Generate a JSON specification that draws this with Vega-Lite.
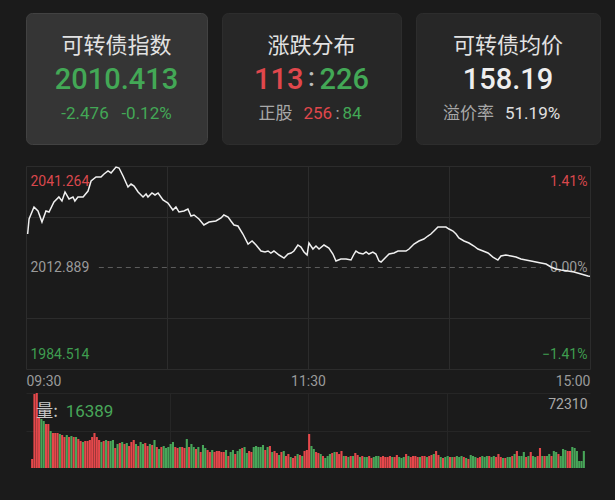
{
"$schema": "https://vega.github.io/schema/vega-lite/v6.json",
"background": "#1b1b1b",
"padding": {"left": 24, "top": 12, "right": 21, "bottom": 34},
"config": {"view": {"stroke": null}, "font": "Noto Sans CJK SC"},
"datasets": {
"price": [{"t":0.7,"p":2022.25},{"t":1.3,"p":2026.45},{"t":3.4,"p":2029.80},{"t":5.1,"p":2028.68},{"t":6.8,"p":2025.61},{"t":8.5,"p":2028.68},{"t":9.8,"p":2028.40},{"t":11.9,"p":2031.20},{"t":14.0,"p":2032.60},{"t":15.3,"p":2031.48},{"t":16.6,"p":2034.00},{"t":18.3,"p":2032.04},{"t":20.0,"p":2032.60},{"t":20.8,"p":2031.48},{"t":22.1,"p":2032.60},{"t":24.3,"p":2032.60},{"t":26.4,"p":2034.27},{"t":27.7,"p":2037.07},{"t":29.8,"p":2038.19},{"t":31.9,"p":2038.19},{"t":33.2,"p":2039.03},{"t":34.9,"p":2039.87},{"t":36.2,"p":2039.31},{"t":38.3,"p":2040.98},{"t":39.6,"p":2040.70},{"t":41.3,"p":2038.47},{"t":43.4,"p":2035.39},{"t":44.7,"p":2036.23},{"t":46.0,"p":2035.67},{"t":47.7,"p":2034.00},{"t":49.8,"p":2032.60},{"t":51.1,"p":2033.44},{"t":51.9,"p":2032.60},{"t":53.6,"p":2033.72},{"t":54.9,"p":2033.16},{"t":56.2,"p":2033.72},{"t":58.3,"p":2031.76},{"t":60.4,"p":2030.92},{"t":62.5,"p":2028.96},{"t":63.8,"p":2029.80},{"t":65.1,"p":2028.40},{"t":67.2,"p":2028.68},{"t":68.9,"p":2029.24},{"t":70.2,"p":2027.29},{"t":71.5,"p":2027.57},{"t":73.6,"p":2026.45},{"t":75.7,"p":2024.77},{"t":77.9,"p":2025.61},{"t":80.8,"p":2025.89},{"t":83.0,"p":2026.73},{"t":84.2,"p":2027.57},{"t":86.0,"p":2027.01},{"t":87.2,"p":2025.89},{"t":88.5,"p":2024.77},{"t":90.2,"p":2024.49},{"t":92.3,"p":2022.25},{"t":94.5,"p":2019.46},{"t":96.2,"p":2020.30},{"t":97.9,"p":2019.18},{"t":100.0,"p":2017.50},{"t":101.7,"p":2017.22},{"t":103.0,"p":2017.50},{"t":104.2,"p":2016.94},{"t":105.5,"p":2017.50},{"t":107.7,"p":2016.38},{"t":109.8,"p":2015.54},{"t":111.5,"p":2016.66},{"t":112.8,"p":2016.94},{"t":114.0,"p":2017.50},{"t":115.7,"p":2019.18},{"t":117.0,"p":2018.62},{"t":118.3,"p":2017.22},{"t":119.6,"p":2016.38},{"t":120.4,"p":2019.74},{"t":122.1,"p":2018.06},{"t":123.4,"p":2018.90},{"t":124.7,"p":2018.06},{"t":126.8,"p":2019.18},{"t":128.9,"p":2018.34},{"t":130.6,"p":2016.66},{"t":131.9,"p":2014.71},{"t":134.0,"p":2015.26},{"t":136.2,"p":2015.26},{"t":138.3,"p":2014.98},{"t":139.6,"p":2016.66},{"t":140.4,"p":2017.50},{"t":141.7,"p":2016.94},{"t":143.4,"p":2016.66},{"t":144.7,"p":2017.22},{"t":145.9,"p":2016.66},{"t":147.6,"p":2017.22},{"t":148.9,"p":2016.66},{"t":150.2,"p":2014.71},{"t":151.1,"p":2014.43},{"t":153.2,"p":2015.82},{"t":154.5,"p":2016.66},{"t":156.6,"p":2016.94},{"t":158.3,"p":2017.50},{"t":159.6,"p":2017.50},{"t":161.7,"p":2017.50},{"t":163.0,"p":2018.06},{"t":165.1,"p":2019.46},{"t":167.2,"p":2020.30},{"t":169.3,"p":2020.85},{"t":171.0,"p":2021.69},{"t":172.3,"p":2022.25},{"t":173.6,"p":2023.09},{"t":175.3,"p":2024.21},{"t":176.6,"p":2024.21},{"t":178.7,"p":2024.21},{"t":180.0,"p":2023.65},{"t":181.7,"p":2023.09},{"t":183.0,"p":2022.25},{"t":184.2,"p":2021.13},{"t":186.4,"p":2020.30},{"t":188.5,"p":2019.74},{"t":190.6,"p":2018.90},{"t":192.3,"p":2018.06},{"t":194.5,"p":2017.50},{"t":196.6,"p":2016.94},{"t":198.7,"p":2015.82},{"t":200.8,"p":2014.98},{"t":202.1,"p":2016.10},{"t":204.2,"p":2016.38},{"t":206.4,"p":2016.10},{"t":208.5,"p":2015.82},{"t":210.6,"p":2015.26},{"t":212.7,"p":2014.98},{"t":214.9,"p":2014.71},{"t":217.0,"p":2014.43},{"t":219.1,"p":2014.15},{"t":221.3,"p":2013.87},{"t":223.4,"p":2013.03},{"t":225.5,"p":2012.47},{"t":227.6,"p":2012.19},{"t":230.6,"p":2011.91},{"t":233.2,"p":2011.63},{"t":236.2,"p":2011.07},{"t":239.1,"p":2010.51},{"t":240,"p":2010.41}],
"vol": [{"t":0,"v":8676,"d":"up"},{"t":1,"v":71336,"d":"up"},{"t":2,"v":72310,"d":"up"},{"t":3,"v":49164,"d":"up"},{"t":4,"v":47236,"d":"down"},{"t":5,"v":45308,"d":"down"},{"t":6,"v":42416,"d":"up"},{"t":7,"v":42416,"d":"up"},{"t":8,"v":35668,"d":"down"},{"t":9,"v":33740,"d":"up"},{"t":10,"v":33740,"d":"up"},{"t":11,"v":33740,"d":"up"},{"t":12,"v":32776,"d":"down"},{"t":13,"v":31812,"d":"up"},{"t":14,"v":29884,"d":"up"},{"t":15,"v":31812,"d":"down"},{"t":16,"v":29884,"d":"up"},{"t":17,"v":30848,"d":"down"},{"t":18,"v":29884,"d":"up"},{"t":19,"v":29884,"d":"down"},{"t":20,"v":27956,"d":"up"},{"t":21,"v":26028,"d":"up"},{"t":22,"v":25064,"d":"down"},{"t":23,"v":26028,"d":"up"},{"t":24,"v":26028,"d":"up"},{"t":25,"v":26992,"d":"up"},{"t":26,"v":29884,"d":"up"},{"t":27,"v":33740,"d":"up"},{"t":28,"v":29884,"d":"up"},{"t":29,"v":26992,"d":"up"},{"t":30,"v":25064,"d":"down"},{"t":31,"v":26028,"d":"up"},{"t":32,"v":26992,"d":"down"},{"t":33,"v":26028,"d":"up"},{"t":34,"v":26028,"d":"down"},{"t":35,"v":26992,"d":"down"},{"t":36,"v":19280,"d":"up"},{"t":37,"v":23136,"d":"down"},{"t":38,"v":24100,"d":"up"},{"t":39,"v":25064,"d":"down"},{"t":40,"v":23136,"d":"up"},{"t":41,"v":24100,"d":"down"},{"t":42,"v":21208,"d":"up"},{"t":43,"v":25064,"d":"up"},{"t":44,"v":26992,"d":"up"},{"t":45,"v":23136,"d":"down"},{"t":46,"v":21208,"d":"up"},{"t":47,"v":25064,"d":"down"},{"t":48,"v":23136,"d":"down"},{"t":49,"v":24100,"d":"up"},{"t":50,"v":21208,"d":"up"},{"t":51,"v":23136,"d":"down"},{"t":52,"v":22172,"d":"up"},{"t":53,"v":26992,"d":"down"},{"t":54,"v":20244,"d":"up"},{"t":55,"v":18316,"d":"down"},{"t":56,"v":20244,"d":"up"},{"t":57,"v":21208,"d":"down"},{"t":58,"v":19280,"d":"down"},{"t":59,"v":20244,"d":"down"},{"t":60,"v":23136,"d":"down"},{"t":61,"v":25064,"d":"down"},{"t":62,"v":20244,"d":"up"},{"t":63,"v":19280,"d":"up"},{"t":64,"v":20244,"d":"down"},{"t":65,"v":20244,"d":"up"},{"t":66,"v":19280,"d":"up"},{"t":67,"v":27956,"d":"down"},{"t":68,"v":20244,"d":"up"},{"t":69,"v":23136,"d":"down"},{"t":70,"v":20244,"d":"down"},{"t":71,"v":18316,"d":"up"},{"t":72,"v":20244,"d":"down"},{"t":73,"v":15424,"d":"up"},{"t":74,"v":22172,"d":"down"},{"t":75,"v":19280,"d":"down"},{"t":76,"v":17352,"d":"up"},{"t":77,"v":15424,"d":"up"},{"t":78,"v":17352,"d":"down"},{"t":79,"v":15424,"d":"up"},{"t":80,"v":16388,"d":"up"},{"t":81,"v":16388,"d":"up"},{"t":82,"v":15424,"d":"up"},{"t":83,"v":15424,"d":"up"},{"t":84,"v":17352,"d":"down"},{"t":85,"v":11568,"d":"up"},{"t":86,"v":15424,"d":"down"},{"t":87,"v":17352,"d":"down"},{"t":88,"v":13496,"d":"up"},{"t":89,"v":16388,"d":"down"},{"t":90,"v":18316,"d":"down"},{"t":91,"v":19280,"d":"up"},{"t":92,"v":20244,"d":"down"},{"t":93,"v":14460,"d":"down"},{"t":94,"v":16388,"d":"up"},{"t":95,"v":15424,"d":"up"},{"t":96,"v":20244,"d":"down"},{"t":97,"v":21208,"d":"down"},{"t":98,"v":20244,"d":"down"},{"t":99,"v":20244,"d":"down"},{"t":100,"v":22172,"d":"down"},{"t":101,"v":17352,"d":"up"},{"t":102,"v":20244,"d":"down"},{"t":103,"v":21208,"d":"up"},{"t":104,"v":15424,"d":"down"},{"t":105,"v":16388,"d":"up"},{"t":106,"v":14460,"d":"up"},{"t":107,"v":12532,"d":"down"},{"t":108,"v":15424,"d":"up"},{"t":109,"v":16388,"d":"down"},{"t":110,"v":11568,"d":"up"},{"t":111,"v":13496,"d":"up"},{"t":112,"v":10604,"d":"down"},{"t":113,"v":9640,"d":"up"},{"t":114,"v":11568,"d":"up"},{"t":115,"v":13496,"d":"down"},{"t":116,"v":12532,"d":"up"},{"t":117,"v":11568,"d":"down"},{"t":118,"v":16388,"d":"up"},{"t":119,"v":17352,"d":"up"},{"t":120,"v":32776,"d":"up"},{"t":121,"v":21208,"d":"down"},{"t":122,"v":18316,"d":"down"},{"t":123,"v":15424,"d":"up"},{"t":124,"v":14460,"d":"up"},{"t":125,"v":13496,"d":"down"},{"t":126,"v":11568,"d":"up"},{"t":127,"v":9640,"d":"down"},{"t":128,"v":11568,"d":"down"},{"t":129,"v":13496,"d":"down"},{"t":130,"v":14460,"d":"up"},{"t":131,"v":15424,"d":"down"},{"t":132,"v":15424,"d":"up"},{"t":133,"v":13496,"d":"up"},{"t":134,"v":16388,"d":"up"},{"t":135,"v":11568,"d":"down"},{"t":136,"v":11568,"d":"up"},{"t":137,"v":10604,"d":"down"},{"t":138,"v":11568,"d":"up"},{"t":139,"v":11568,"d":"down"},{"t":140,"v":14460,"d":"up"},{"t":141,"v":12532,"d":"up"},{"t":142,"v":10604,"d":"down"},{"t":143,"v":11568,"d":"up"},{"t":144,"v":10604,"d":"down"},{"t":145,"v":10604,"d":"down"},{"t":146,"v":11568,"d":"up"},{"t":147,"v":9640,"d":"up"},{"t":148,"v":10604,"d":"down"},{"t":149,"v":11568,"d":"down"},{"t":150,"v":11568,"d":"down"},{"t":151,"v":10604,"d":"up"},{"t":152,"v":11568,"d":"up"},{"t":153,"v":10604,"d":"up"},{"t":154,"v":10604,"d":"up"},{"t":155,"v":11568,"d":"up"},{"t":156,"v":10604,"d":"down"},{"t":157,"v":10604,"d":"up"},{"t":158,"v":12532,"d":"up"},{"t":159,"v":10604,"d":"down"},{"t":160,"v":9640,"d":"down"},{"t":161,"v":10604,"d":"down"},{"t":162,"v":13496,"d":"up"},{"t":163,"v":11568,"d":"down"},{"t":164,"v":10604,"d":"up"},{"t":165,"v":11568,"d":"up"},{"t":166,"v":11568,"d":"up"},{"t":167,"v":10604,"d":"up"},{"t":168,"v":10604,"d":"down"},{"t":169,"v":11568,"d":"up"},{"t":170,"v":11568,"d":"up"},{"t":171,"v":10604,"d":"down"},{"t":172,"v":11568,"d":"up"},{"t":173,"v":12532,"d":"up"},{"t":174,"v":13496,"d":"down"},{"t":175,"v":16388,"d":"up"},{"t":176,"v":12532,"d":"up"},{"t":177,"v":10604,"d":"down"},{"t":178,"v":9640,"d":"up"},{"t":179,"v":10604,"d":"down"},{"t":180,"v":11568,"d":"down"},{"t":181,"v":10604,"d":"up"},{"t":182,"v":10604,"d":"down"},{"t":183,"v":10604,"d":"up"},{"t":184,"v":11568,"d":"down"},{"t":185,"v":10604,"d":"down"},{"t":186,"v":11568,"d":"down"},{"t":187,"v":10604,"d":"up"},{"t":188,"v":9640,"d":"down"},{"t":189,"v":8676,"d":"up"},{"t":190,"v":12532,"d":"down"},{"t":191,"v":11568,"d":"down"},{"t":192,"v":10604,"d":"down"},{"t":193,"v":9640,"d":"up"},{"t":194,"v":10604,"d":"up"},{"t":195,"v":11568,"d":"down"},{"t":196,"v":10604,"d":"down"},{"t":197,"v":11568,"d":"down"},{"t":198,"v":11568,"d":"up"},{"t":199,"v":10604,"d":"down"},{"t":200,"v":11568,"d":"down"},{"t":201,"v":10604,"d":"up"},{"t":202,"v":13496,"d":"up"},{"t":203,"v":10604,"d":"up"},{"t":204,"v":9640,"d":"down"},{"t":205,"v":9640,"d":"up"},{"t":206,"v":10604,"d":"down"},{"t":207,"v":10604,"d":"down"},{"t":208,"v":11568,"d":"up"},{"t":209,"v":13496,"d":"down"},{"t":210,"v":16388,"d":"up"},{"t":211,"v":11568,"d":"down"},{"t":212,"v":11568,"d":"down"},{"t":213,"v":15424,"d":"down"},{"t":214,"v":10604,"d":"up"},{"t":215,"v":11568,"d":"down"},{"t":216,"v":15424,"d":"up"},{"t":217,"v":11568,"d":"down"},{"t":218,"v":10604,"d":"down"},{"t":219,"v":11568,"d":"up"},{"t":220,"v":19280,"d":"up"},{"t":221,"v":11568,"d":"down"},{"t":222,"v":11568,"d":"up"},{"t":223,"v":11568,"d":"down"},{"t":224,"v":13496,"d":"down"},{"t":225,"v":11568,"d":"up"},{"t":226,"v":16388,"d":"down"},{"t":227,"v":15424,"d":"down"},{"t":228,"v":13496,"d":"up"},{"t":229,"v":11568,"d":"down"},{"t":230,"v":18316,"d":"down"},{"t":231,"v":17352,"d":"down"},{"t":232,"v":16388,"d":"up"},{"t":233,"v":16388,"d":"up"},{"t":234,"v":20244,"d":"down"},{"t":235,"v":19280,"d":"down"},{"t":236,"v":16388,"d":"down"},{"t":237,"v":6748,"d":"down"},{"t":238,"v":6748,"d":"down"},{"t":239,"v":16389,"d":"down"}]
},
"spacing": 19,
"vconcat": [
 {
  "spacing": 13,
  "hconcat": [
   {
    "width": 181, "height": 131,
    "view": {"fill": "#353535", "stroke": "#424242", "strokeWidth": 1, "cornerRadius": 6},
    "encoding": {"y": {"field": "line", "type": "ordinal", "scale": {"type": "point", "domain": ["title","value","sub"], "range": [33,101], "padding": 0}, "axis": null}, "text": {"field": "label"}},
    "layer": [
     {"data": {"values": [{"line": "title", "label": "可转债指数"}]}, "mark": {"type": "text", "fontSize": 22, "color": "#e2e2e2", "font": "Noto Sans CJK SC"}},
     {"data": {"values": [{"line": "value", "label": "2010.413"}]}, "mark": {"type": "text", "fontSize": 29, "fontWeight": 500, "color": "#43a856", "font": "Roboto"}},
     {"data": {"values": [{"line": "sub", "label": "-2.476\u00a0\u00a0\u00a0-0.12%"}]}, "mark": {"type": "text", "fontSize": 17, "color": "#43a856", "font": "Roboto"}}
    ]
   },
   {
    "width": 179, "height": 131,
    "view": {"fill": "#272727", "stroke": "#2d2d2d", "strokeWidth": 1, "cornerRadius": 6},
    "encoding": {"y": {"field": "line", "type": "ordinal", "scale": {"type": "point", "domain": ["title","value","sub"], "range": [33,101], "padding": 0}, "axis": null}, "text": {"field": "label"}},
    "layer": [
     {"data": {"values": [{"line": "title", "label": "涨跌分布"}]}, "mark": {"type": "text", "fontSize": 22, "color": "#e2e2e2", "font": "Noto Sans CJK SC"}},
     {"data": {"values": [{"line": "value", "label": "113"}]}, "mark": {"type": "text", "fontSize": 29, "fontWeight": 500, "color": "#e0474c", "font": "Roboto", "align": "right", "dx": -8}},
     {"data": {"values": [{"line": "value", "label": ":"}]}, "mark": {"type": "text", "fontSize": 26, "fontWeight": 500, "color": "#bdbdbd", "font": "Roboto", "align": "center", "dy": -2}},
     {"data": {"values": [{"line": "value", "label": "226"}]}, "mark": {"type": "text", "fontSize": 29, "fontWeight": 500, "color": "#43a856", "font": "Roboto", "align": "left", "dx": 8}},
     {"data": {"values": [{"line": "sub", "label": "正股"}]}, "mark": {"type": "text", "fontSize": 17, "color": "#a8a8a8", "font": "Noto Sans CJK SC", "align": "right", "dx": -19}},
     {"data": {"values": [{"line": "sub", "label": "256"}]}, "mark": {"type": "text", "fontSize": 17, "color": "#e0474c", "font": "Roboto", "align": "left", "dx": -8}},
     {"data": {"values": [{"line": "sub", "label": ":"}]}, "mark": {"type": "text", "fontSize": 17, "color": "#a8a8a8", "font": "Roboto", "align": "center", "dx": 26}},
     {"data": {"values": [{"line": "sub", "label": "84"}]}, "mark": {"type": "text", "fontSize": 17, "color": "#43a856", "font": "Roboto", "align": "left", "dx": 31}}
    ]
   },
   {
    "width": 184, "height": 131,
    "view": {"fill": "#272727", "stroke": "#2d2d2d", "strokeWidth": 1, "cornerRadius": 6},
    "encoding": {"y": {"field": "line", "type": "ordinal", "scale": {"type": "point", "domain": ["title","value","sub"], "range": [33,101], "padding": 0}, "axis": null}, "text": {"field": "label"}},
    "layer": [
     {"data": {"values": [{"line": "title", "label": "可转债均价"}]}, "mark": {"type": "text", "fontSize": 22, "color": "#e2e2e2", "font": "Noto Sans CJK SC"}},
     {"data": {"values": [{"line": "value", "label": "158.19"}]}, "mark": {"type": "text", "fontSize": 29, "fontWeight": 500, "color": "#eeeeee", "font": "Roboto"}},
     {"data": {"values": [{"line": "sub", "label": "溢价率"}]}, "mark": {"type": "text", "fontSize": 17, "color": "#a8a8a8", "font": "Noto Sans CJK SC", "align": "right", "dx": -14}},
     {"data": {"values": [{"line": "sub", "label": "51.19%"}]}, "mark": {"type": "text", "fontSize": 17, "color": "#e0e0e0", "font": "Roboto", "align": "left", "dx": -3}}
    ]
   }
  ]
 },
 {
  "spacing": 5,
  "vconcat": [
   {
    "width": 564, "height": 203,
    "resolve": {"axis": {"y": "independent"}},
    "layer": [
     {
      "data": {"values": [{"prev": 2012.889}]},
      "mark": {"type": "rule", "color": "#5c5c5c", "strokeDash": [5,4], "strokeWidth": 1},
      "encoding": {
       "x": {"datum": 31, "type": "quantitative", "scale": {"domain": [0,240], "nice": false, "zero": false}},
       "x2": {"datum": 219},
       "y": {"field": "prev", "type": "quantitative", "scale": {"domain": [1984.514, 2041.264], "nice": false, "zero": false},
        "axis": {"orient": "right", "values": [1984.514, 2012.889, 2041.264], "title": null, "grid": false, "domain": false, "ticks": false, "tickSize": 0,
         "labelExpr": "format((datum.value - 2012.889) / 2012.889 * 100, '.2f') + '%'",
         "labelAlign": "right", "labelPadding": -3, "labelFont": "Roboto", "labelFontSize": 14,
         "labelBaseline": "middle",
         "labelOffset": {"condition": [{"test": "datum.value > 2040", "value": 15}, {"test": "datum.value < 1986", "value": -15}], "value": 0},
         "labelColor": {"condition": [{"test": "datum.value > 2040", "value": "#d9484d"}, {"test": "datum.value < 1986", "value": "#3f9e50"}], "value": "#9a9a9a"}
        }
       }
      }
     },
     {
      "data": {"name": "price"},
      "mark": {"type": "line", "color": "#f0f0f0", "strokeWidth": 1.5},
      "encoding": {
       "x": {"field": "t", "type": "quantitative", "scale": {"domain": [0,240], "nice": false, "zero": false},
        "axis": {"values": [0,60,120,180,240], "title": null, "grid": true, "gridColor": "#2c2c2c", "domain": false, "ticks": false, "tickSize": 0,
         "labelExpr": "datum.value == 0 ? '09:30' : datum.value == 120 ? '11:30' : datum.value == 240 ? '15:00' : ''",
         "labelFlush": true, "labelPadding": 5, "labelFont": "Roboto", "labelFontSize": 14, "labelColor": "#9a9a9a"}},
       "y": {"field": "p", "type": "quantitative", "scale": {"domain": [1984.514, 2041.264], "nice": false, "zero": false},
        "axis": {"orient": "left", "values": [1984.514, 1998.7015, 2012.889, 2027.0765, 2041.264], "title": null, "grid": true, "gridColor": "#2c2c2c",
         "gridOpacity": {"condition": {"test": "abs(datum.value - 2012.889) < 0.01", "value": 0}, "value": 1},
         "domain": false, "ticks": false, "tickSize": 0,
         "labelExpr": "(abs(datum.value - 1998.7015) < 0.01 || abs(datum.value - 2027.0765) < 0.01) ? '' : format(datum.value, '.3f')",
         "labelAlign": "left", "labelPadding": -4, "labelFont": "Roboto", "labelFontSize": 14, "labelBaseline": "middle",
         "labelOffset": {"condition": [{"test": "datum.value > 2040", "value": 15}, {"test": "datum.value < 1986", "value": -15}], "value": 0},
         "labelColor": {"condition": [{"test": "datum.value > 2040", "value": "#d9484d"}, {"test": "datum.value < 1986", "value": "#3f9e50"}], "value": "#9a9a9a"}
        }}
      }
     }
    ]
   },
   {
    "width": 564, "height": 75,
    "data": {"name": "vol"},
    "layer": [
     {
      "mark": {"type": "bar", "width": 2.1},
      "encoding": {
       "x": {"field": "t", "type": "quantitative", "scale": {"domain": [-0.5, 239.5], "nice": false, "zero": false},
        "axis": {"values": [59.5, 119.5, 179.5], "title": null, "grid": true, "gridColor": "#262626", "labels": false, "domain": false, "ticks": false}},
       "y": {"field": "v", "type": "quantitative", "scale": {"domain": [0, 72310], "nice": false},
        "axis": {"orient": "right", "values": [36155, 72310], "title": null, "grid": true, "gridColor": "#262626", "domain": false, "ticks": false, "tickSize": 0,
         "labelExpr": "datum.value == 72310 ? '72310' : ''", "labelAlign": "right", "labelPadding": -3, "labelBaseline": "middle", "labelOffset": 11,
         "labelFont": "Roboto", "labelFontSize": 14, "labelColor": "#a8a8a8"}},
       "color": {"field": "d", "type": "nominal", "scale": {"domain": ["up", "down"], "range": ["#e5484b", "#48a659"]}, "legend": null}
      }
     },
     {
      "data": {"values": [{"label": "量:"}]},
      "mark": {"type": "text", "align": "left", "baseline": "middle", "fontSize": 17, "color": "#c8c8c8", "font": "Noto Sans CJK SC"},
      "encoding": {"x": {"datum": 1.8}, "y": {"datum": 54000}, "text": {"field": "label"}}
    },
     {
      "transform": [{"filter": "datum.t == 239"}],
      "mark": {"type": "text", "align": "left", "baseline": "middle", "fontSize": 17, "color": "#48a659", "font": "Roboto"},
      "encoding": {"x": {"datum": 14.5}, "y": {"datum": 54000}, "text": {"field": "v", "type": "quantitative", "format": "d"}}
     }
    ]
   }
  ]
 }
]
}
